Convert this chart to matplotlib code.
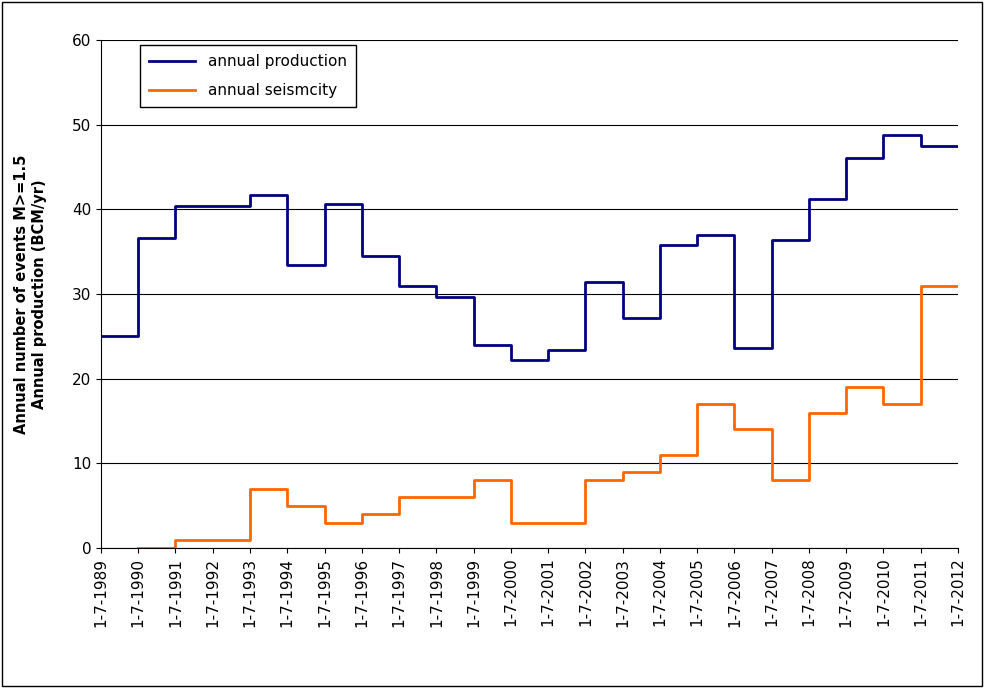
import matplotlib.pyplot as plt
from matplotlib.patches import Rectangle

years = list(range(1989, 2013))
tick_labels = [f'1-7-{y}' for y in years]

# value for the year starting at each 1 July
prod_years = list(range(1989, 2012))
production = [25.0, 36.6, 40.4, 40.4, 41.7, 33.4, 40.6, 34.5, 30.9, 29.7, 24.0,
              22.2, 23.4, 31.4, 27.2, 35.8, 37.0, 23.6, 36.4, 41.2, 46.1, 48.8, 47.5]
seis_years = list(range(1990, 2012))
seismicity = [0, 1, 1, 7, 5, 3, 4, 6, 6, 8, 3, 3, 8, 9, 11, 17, 14, 8, 16, 19, 17, 31]

fig = plt.figure(figsize=(9.84, 6.88), dpi=100)
fig.patches.append(Rectangle((0.002, 0.003), 0.996, 0.994, transform=fig.transFigure,
                             fill=False, edgecolor='black', linewidth=1))
ax = fig.add_axes([0.1026, 0.2035, 0.871, 0.7384])

ax.step(prod_years + [2012], production + [production[-1]], where='post',
        color='#000080', linewidth=2, label='annual production')
ax.step(seis_years + [2012], seismicity + [seismicity[-1]], where='post',
        color='#ff6600', linewidth=2, label='annual seismcity')

ax.set_xlim(1989, 2012)
ax.set_ylim(0, 60)
ax.set_yticks(range(0, 61, 10))
ax.set_xticks(years)
ax.set_xticklabels(tick_labels, rotation=90, fontsize=11)
ax.tick_params(axis='y', labelsize=11)
ax.yaxis.grid(True, color='black', linewidth=0.8)
ax.set_axisbelow(True)
for s in ['top', 'right']:
    ax.spines[s].set_visible(False)
ax.set_ylabel('Annual number of events M>=1.5\nAnnual production (BCM/yr)',
              fontsize=10.5, fontweight='bold', labelpad=18)

leg = ax.legend(loc='upper left', bbox_to_anchor=(0.037, 1.005), fontsize=11,
                frameon=True, fancybox=False, edgecolor='black', framealpha=1,
                handlelength=3, labelspacing=0.9, borderpad=0.6)
leg.get_frame().set_linewidth(1)

fig.savefig('out.png', dpi=100)
